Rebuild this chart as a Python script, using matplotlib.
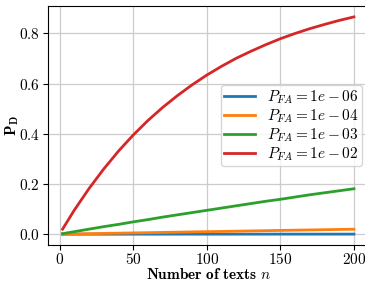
import matplotlib
matplotlib.use("Agg")
import matplotlib.pyplot as plt
from matplotlib.ticker import FuncFormatter

plt.rcParams['mathtext.fontset'] = 'cm'
plt.rcParams['font.family'] = ['DejaVu Serif']

n_texts = [2, 10, 20, 30, 40, 50, 60, 70, 80, 90, 100, 110, 120, 130, 140, 150,
           160, 170, 180, 190, 200]
pfa_values = [1e-06, 1e-04, 1e-03, 1e-02]
pd_1e06 = [0.0000, 0.0000, 0.0000, 0.0000, 0.0000, 0.0001, 0.0001, 0.0001, 0.0001, 0.0001,
           0.0001, 0.0001, 0.0001, 0.0001, 0.0001, 0.0002, 0.0002, 0.0002, 0.0002, 0.0002, 0.0002]
pd_1e04 = [0.0002, 0.0010, 0.0020, 0.0030, 0.0040, 0.0050, 0.0060, 0.0070, 0.0080, 0.0090,
           0.0100, 0.0109, 0.0119, 0.0129, 0.0139, 0.0149, 0.0159, 0.0169, 0.0178, 0.0188, 0.0198]
pd_1e03 = [0.002, 0.010, 0.020, 0.030, 0.039, 0.049, 0.058, 0.068, 0.077, 0.086,
           0.095, 0.104, 0.113, 0.122, 0.131, 0.139, 0.148, 0.157, 0.165, 0.173, 0.181]
pd_1e02 = [0.020, 0.096, 0.182, 0.260, 0.331, 0.395, 0.453, 0.505, 0.552, 0.595,
           0.634, 0.669, 0.701, 0.729, 0.755, 0.779, 0.800, 0.819, 0.836, 0.852, 0.866]
series = [pd_1e06, pd_1e04, pd_1e03, pd_1e02]

fig = plt.figure(figsize=(3.65, 2.81), dpi=100)
ax = fig.add_axes([0.1315, 0.128, 0.878, 0.8505])

for p, vals in zip(pfa_values, series):
    ax.plot(n_texts, vals, lw=2, label=rf'$P_{{FA}} = {p:.0e}$')

ax.grid(True, color='#cccccc', lw=0.9)
ax.set_axisbelow(True)
ax.set_xticks([0, 50, 100, 150, 200])
ax.set_yticks([0.0, 0.2, 0.4, 0.6, 0.8])
ax.xaxis.set_major_formatter(FuncFormatter(lambda v, pos: rf'${v:.0f}$'))
ax.yaxis.set_major_formatter(FuncFormatter(lambda v, pos: rf'${v:.1f}$'))
ax.tick_params(labelsize=11, pad=2.5)
ax.tick_params(axis='x', pad=1.8)
ax.set_xlabel(r'$\mathbf{Number\ of\ texts}\ n$', fontsize=11)
ax.set_ylabel(r'$\mathbf{P_D}$', fontsize=11)
ax.xaxis.set_label_coords(0.5, -0.093)
ax.yaxis.set_label_coords(-0.084, 0.5)
ax.legend(loc='center right', fontsize=11, handlelength=2.0, borderaxespad=0.45,
          labelspacing=0.1, borderpad=0.2)

fig.savefig('out.png', dpi=100)
